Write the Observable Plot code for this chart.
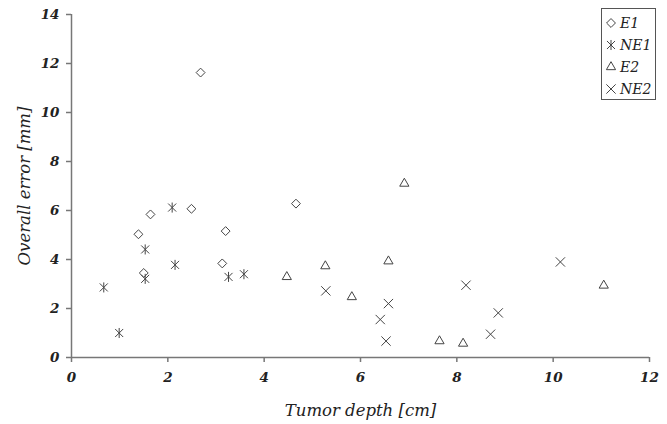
<!DOCTYPE html>
<html><head><meta charset="utf-8">
<script src="https://cdn.jsdelivr.net/npm/d3@7"></script>
<script src="https://cdn.jsdelivr.net/npm/@observablehq/plot@0.6"></script>
<style>
body{margin:0;background:#fff;}
#wrap{position:relative;width:667px;height:424px;}
#legend{position:absolute;left:601px;top:8px;width:55px;height:92px;border:1px solid #555;box-sizing:border-box;background:#fff;font-family:"DejaVu Serif";font-style:italic;font-size:14px;color:#222;padding-top:3px;}
#legend .item{display:flex;align-items:center;height:22px;}
#legend svg{margin:0 3px 0 3px;}
svg text{font-family:"DejaVu Serif";font-style:italic;}
g[aria-label$="tick label"] text{font-weight:bold;}
</style></head><body><div id="wrap"><div id="legend"></div></div>
<script>
const seriesNames = ["E1", "NE1", "E2", "NE2"];

const e1X = [2.68, 1.39, 1.64, 1.50, 2.49, 3.20, 3.13, 4.66];
const e1Y = [11.63, 5.03, 5.84, 3.45, 6.07, 5.16, 3.84, 6.28];

const ne1X = [0.67, 0.99, 1.53, 1.53, 2.09, 2.15, 3.26, 3.58];
const ne1Y = [2.86, 1.00, 4.41, 3.21, 6.12, 3.78, 3.29, 3.40];

const e2X = [4.47, 5.27, 5.82, 6.58, 6.91, 7.64, 8.13, 11.05];
const e2Y = [3.29, 3.73, 2.47, 3.93, 7.10, 0.67, 0.57, 2.94];

const ne2X = [5.28, 6.41, 6.53, 6.58, 8.19, 8.70, 8.86, 10.15];
const ne2Y = [2.72, 1.55, 0.67, 2.20, 2.95, 0.95, 1.82, 3.90];

const xTicks = [0, 2, 4, 6, 8, 10, 12];
const yTicks = [0, 2, 4, 6, 8, 10, 12, 14];

// asterisk drawn as a vertical bar plus an X
const starSymbol = {
  draw(context, size) {
    const r = Math.sqrt(size) * 0.59;
    const d = r * 0.8;
    context.moveTo(0, -r); context.lineTo(0, r);
    context.moveTo(-d, -d); context.lineTo(d, d);
    context.moveTo(-d, d); context.lineTo(d, -d);
  }
};
const seriesSymbols = [d3.symbolDiamond2, starSymbol, d3.symbolTriangle2, d3.symbolTimes];

const series = [
  {x: e1X, y: e1Y, r: 4.0},
  {x: ne1X, y: ne1Y, r: 4.8},
  {x: e2X, y: e2Y, r: 4.4},
  {x: ne2X, y: ne2Y, r: 4.3}
];

const markColor = "#444";
const axisColor = "#777";

const dotMarks = series.map((s, i) =>
  Plot.dot(s.x.map((v, j) => ({x: v, y: s.y[j]})), {
    x: "x", y: "y", symbol: () => seriesSymbols[i], r: s.r,
    stroke: markColor, strokeWidth: 1, fill: "none"
  })
);

const chart = Plot.plot({
  width: 667,
  height: 424,
  marginLeft: 71,
  marginRight: 18,
  marginTop: 14,
  marginBottom: 67,
  style: {fontFamily: "'DejaVu Serif'", fontStyle: "italic", fontSize: "17px", color: "#222", background: "#fff"},
  x: {domain: [0, 12]},
  y: {domain: [0, 14]},
  symbol: {type: "identity"},
  marks: [
    Plot.ruleX([0], {stroke: axisColor, strokeWidth: 1.5}),
    Plot.ruleY([0], {stroke: axisColor, strokeWidth: 1.5}),
    Plot.axisX({ticks: xTicks, tickSize: 5, tickPadding: 10, stroke: axisColor, strokeWidth: 1.5, fontSize: 13.5,
      label: null}),
    Plot.axisX({ticks: [], label: "Tumor depth [cm]", labelAnchor: "center", labelArrow: "none", labelOffset: 58, fontSize: 16.5}),
    Plot.axisY({ticks: yTicks, tickSize: 5, tickPadding: 7, stroke: axisColor, strokeWidth: 1.5, fontSize: 13.5,
      label: null}),
    Plot.axisY({ticks: [], label: "Overall error [mm]", labelAnchor: "center", labelArrow: "none", labelOffset: 53, fontSize: 16.5}),
    ...dotMarks
  ]
});
document.getElementById("wrap").prepend(chart);

// legend
const leg = document.getElementById("legend");
seriesNames.forEach((name, i) => {
  const item = document.createElement("div");
  item.className = "item";
  const r = series[i].r;
  const path = d3.symbol(seriesSymbols[i], r * r * Math.PI)();
  item.innerHTML = `<svg width="12" height="12" viewBox="-6 -6 12 12"><path d="${path}" fill="none" stroke="${markColor}" stroke-width="1"/></svg><span>${name}</span>`;
  leg.appendChild(item);
});
</script>
</body></html>
